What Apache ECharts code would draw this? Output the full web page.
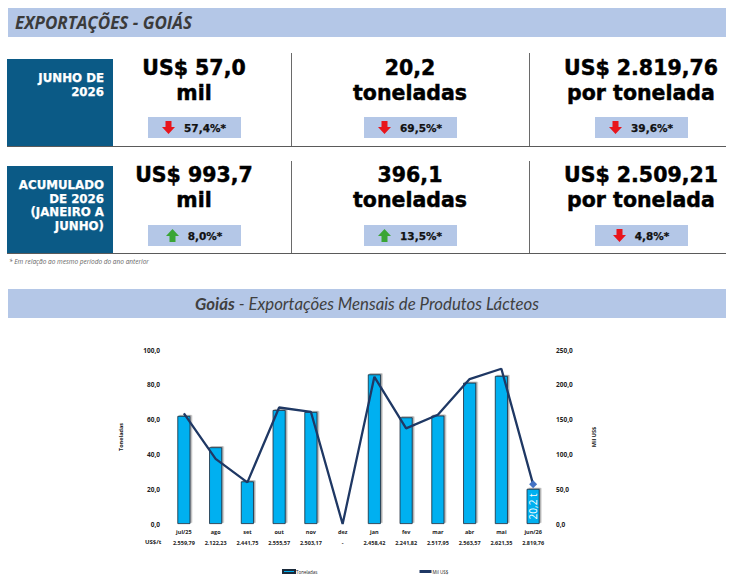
<!DOCTYPE html>
<html><head><meta charset="utf-8">
<script src="https://cdn.jsdelivr.net/npm/echarts@6/dist/echarts.min.js"></script>
<style>
html,body{margin:0;padding:0;background:#fff;width:736px;height:584px;overflow:hidden;font-family:"Open Sans",sans-serif;}
#chart{position:absolute;left:0;top:0;width:736px;height:584px;}
.a{position:absolute;}
.band{background:#b4c7e7;}
.lbl{background:#0b5a86;}
.lt{position:absolute;color:#fff;font-family:"DejaVu Sans",sans-serif;font-weight:700;font-size:11.8px;text-align:right;white-space:nowrap;-webkit-text-stroke:0.25px #fff;}
.hl{background:#5a5a5a;height:1.5px;}
.vl{background:#6a6a6a;width:1px;}
.big{width:220px;text-align:center;font-family:"DejaVu Sans",sans-serif;font-weight:700;font-size:20.5px;line-height:25px;height:25px;color:#000;white-space:nowrap;-webkit-text-stroke:0.45px #000;}
.badge{width:93px;height:21px;background:#b4c7e7;display:flex;align-items:center;justify-content:center;gap:9px;font-family:"DejaVu Sans",sans-serif;font-weight:700;font-size:10.5px;color:#111;-webkit-text-stroke:0.25px #111;}
.badge svg{display:block;}
</style></head><body>
<div id="chart"></div>

<div class="a band" style="left:8px;top:8px;width:718px;height:29px;"></div>
<div class="a" style="left:15px;top:8px;line-height:29px;font-size:17px;font-weight:700;font-style:italic;color:#3b3b3b;">EXPORTAÇÕES - GOIÁS</div>

<div class="a lbl" style="left:7px;top:59px;width:106px;height:87px;"></div>
<div class="a lbl" style="left:7px;top:166px;width:106px;height:87px;"></div>
<div id="labels"></div>

<div class="a hl" style="left:7px;top:145.5px;width:719px;"></div>
<div class="a hl" style="left:7px;top:252.5px;width:719px;"></div>
<div class="a vl" style="left:291px;top:53px;height:93px;"></div>
<div class="a vl" style="left:529px;top:53px;height:93px;"></div>
<div class="a vl" style="left:291px;top:161px;height:92px;"></div>
<div class="a vl" style="left:529px;top:161px;height:92px;"></div>

<div id="cards"></div>

<div class="a" style="left:9px;top:257px;font-size:6.5px;font-style:italic;color:#666;">* Em relação ao mesmo período do ano anterior</div>

<div class="a band" style="left:8px;top:289px;width:718px;height:29px;"></div>
<div class="a" style="left:8px;top:289px;width:718px;line-height:29px;text-align:center;font-family:Lato,sans-serif;font-style:italic;font-size:16.8px;color:#404040;"><b>Goiás</b> - Exportações Mensais de Produtos Lácteos</div>

<script>
// ---- data ----
var months = ['jul/25','ago','set','out','nov','dez','jan','fev','mar','abr','mai','jun/26'];
var pricePerTon = ['2.559,79','2.122,23','2.441,75','2.555,57','2.503,17','-','2.458,42','2.241,82','2.517,95','2.563,57','2.621,35','2.819,76'];
var tonnes = [62.1, 44.1, 24.5, 65.5, 64.4, 0, 86.0, 61.3, 62.3, 81.2, 85.1, 20.2];
var milUSD = [159.0, 93.6, 59.8, 167.4, 161.2, 0, 211.4, 137.4, 156.9, 208.2, 223.1, 57.0];
var leftTicks = [0, 20, 40, 60, 80, 100];
var rightTicks = [0, 50, 100, 150, 200, 250];

var periodRow1 = ['JUNHO DE', '2026'];
var periodRow2 = ['ACUMULADO', 'DE 2026', '(JANEIRO A', 'JUNHO)'];
// cards: [line1, line2, change, direction]
var cardsRow1 = [['US$ 57,0','mil','57,4%*','down'],['20,2','toneladas','69,5%*','down'],['US$ 2.819,76','por tonelada','39,6%*','down']];
var cardsRow2 = [['US$ 993,7','mil','8,0%*','up'],['396,1','toneladas','13,5%*','up'],['US$ 2.509,21','por tonelada','4,8%*','down']];

// ---- period labels ----
var lh='';
[[periodRow1,71,14],[periodRow2,179.2,13.5]].forEach(function(r){
  r[0].forEach(function(t,i){
    lh += '<div class="lt" style="right:'+(736-104)+'px;top:'+(r[1]+i*r[2])+'px;line-height:'+r[2]+'px;height:'+r[2]+'px;">'+t+'</div>';
  });
});
document.getElementById('labels').innerHTML = lh;

// ---- cards (HTML) ----
var centers = [194, 410, 641];
function arrow(dir){
  if(dir==='down') return '<svg width="13" height="13" viewBox="0 0 13 13"><polygon points="3.5,0 9.5,0 9.5,6 13,6 6.5,13 0,6 3.5,6" fill="#e8141b"/></svg>';
  return '<svg width="13" height="13" viewBox="0 0 13 13"><polygon points="3.5,13 9.5,13 9.5,7 13,7 6.5,0 0,7 3.5,7" fill="#3aa535"/></svg>';
}
var html='';
[[cardsRow1,56.4,117],[cardsRow2,163.4,225]].forEach(function(r){
  r[0].forEach(function(c,i){
    html += '<div class="a big" style="left:'+(centers[i]-110)+'px;top:'+r[1]+'px;">'+c[0]+'</div>';
    html += '<div class="a big" style="left:'+(centers[i]-110)+'px;top:'+(r[1]+25)+'px;">'+c[1]+'</div>';
    html += '<div class="a badge" style="left:'+(centers[i]-46.5)+'px;top:'+r[2]+'px;">'+arrow(c[3])+'<span>'+c[2]+'</span></div>';
  });
});
document.getElementById('cards').innerHTML = html;

// ---- chart ----
function fmt(v){ return v.toFixed(1).replace('.', ','); }
var chart = echarts.init(document.getElementById('chart'), null, {renderer:'svg'});
var lineData = milUSD.map(function(v,i){
  if(i===milUSD.length-1) return {value:v, symbol:'diamond', symbolSize:8, itemStyle:{color:'#4472c4'}};
  return v;
});
var barData = tonnes.map(function(v,i){
  if(i===tonnes.length-1) return {value:v, label:{show:true, position:'inside', rotate:90, color:'#fff', fontSize:10, fontFamily:'Open Sans', formatter:function(p){return fmt(p.value)+' t';}}};
  return v;
});
chart.setOption({
  animation:false,
  textStyle:{fontFamily:'Open Sans'},
  grid:{left:168, right:187, top:350, bottom:60},
  legend:{
    left:277, top:564, itemGap:102, itemWidth:12, itemHeight:3,
    textStyle:{fontSize:4.5, color:'#222', padding:[0,0,0,-4]},
    data:[{name:'Toneladas', icon:'rect'},{name:'Mil US$', icon:'rect'}]
  },
  graphic:[{type:'text', left:145, top:539, style:{text:'US$/t', fontSize:6, fontWeight:'bold', fill:'#222', fontFamily:'Open Sans'}}],
  xAxis:{
    type:'category', data:months,
    axisLine:{show:false}, axisTick:{show:false},
    axisLabel:{
      margin:3, interval:0,
      formatter:function(v, i){ return '{m|'+v+'}\n{p|'+pricePerTon[i]+'}'; },
      rich:{
        m:{fontSize:5.5, fontWeight:'bold', color:'#222', lineHeight:10.5, fontFamily:'Open Sans'},
        p:{fontSize:5.5, fontWeight:'bold', color:'#222', lineHeight:10.5, fontFamily:'Open Sans'}
      }
    }
  },
  yAxis:[
    {type:'value', min:leftTicks[0], max:leftTicks[leftTicks.length-1], interval:leftTicks[1]-leftTicks[0],
     name:'Toneladas', nameLocation:'middle', nameRotate:90, nameGap:44,
     nameTextStyle:{fontSize:5.5, fontWeight:'bold', color:'#222'},
     axisLine:{show:false}, axisTick:{show:false}, splitLine:{show:false},
     axisLabel:{margin:8, fontSize:6.5, fontWeight:'bold', color:'#222', formatter:fmt}},
    {type:'value', min:rightTicks[0], max:rightTicks[rightTicks.length-1], interval:rightTicks[1]-rightTicks[0],
     name:'Mil US$', nameLocation:'middle', nameRotate:90, nameGap:42,
     nameTextStyle:{fontSize:5.5, fontWeight:'bold', color:'#222'},
     axisLine:{show:false}, axisTick:{show:false}, splitLine:{show:false},
     axisLabel:{margin:7, fontSize:6.5, fontWeight:'bold', color:'#222', formatter:fmt}}
  ],
  series:[
    {name:'Toneladas', type:'bar', yAxisIndex:0, data:barData, barWidth:13,
     itemStyle:{color:'#00b0f0', borderColor:'#1b2a3a', borderWidth:0.8,
       shadowColor:'rgba(0,0,0,0.35)', shadowOffsetX:1.5, shadowOffsetY:-1, shadowBlur:0}},
    {name:'Mil US$', type:'line', yAxisIndex:1, data:lineData, symbol:'none', showSymbol:true,
     lineStyle:{color:'#1f3864', width:2.3}, itemStyle:{color:'#1f3864'}}
  ]
});
</script>
</body></html>
